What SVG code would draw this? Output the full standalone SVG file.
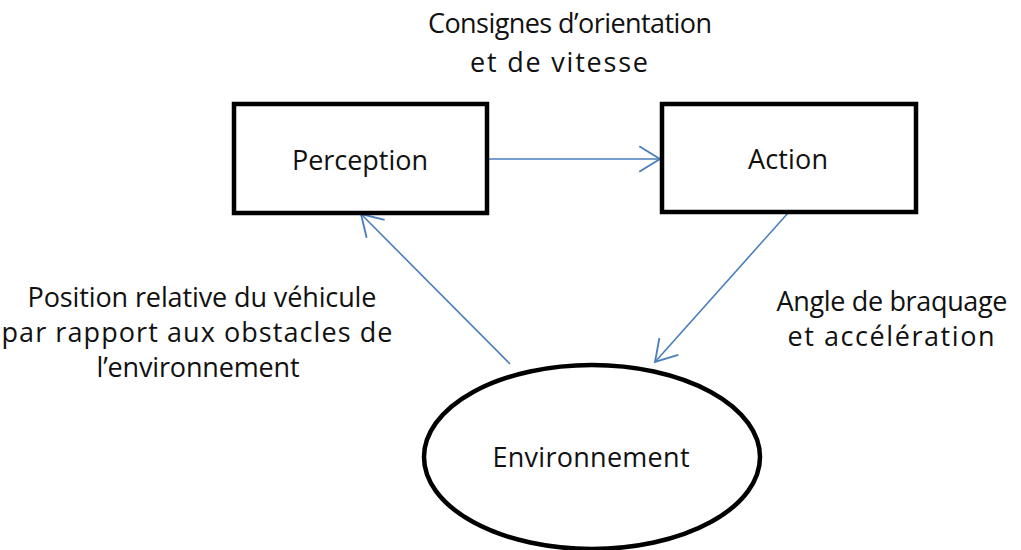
<svg xmlns="http://www.w3.org/2000/svg" width="1021" height="550" viewBox="0 0 1021 550">
  <style>
    .box { fill: #ffffff; stroke: #000000; stroke-width: 4.5; }
    .ell { fill: #ffffff; stroke: #000000; stroke-width: 4.5; }
    .lbl { font-family: "Open Sans", "Noto Sans", sans-serif; font-size: 27px; fill: #111111; }
    .conn { fill: none; stroke: #4a7ebb; stroke-width: 1.6; }
  </style>
  <defs>
    <marker id="open-arrow" markerUnits="userSpaceOnUse" markerWidth="30" markerHeight="30" viewBox="-20 -13 24 26" refX="0" refY="0" orient="auto">
      <path d="M-18,-11 L0,0 L-18,11" fill="none" stroke="#4a7ebb" stroke-width="1.6"/>
    </marker>
  </defs>
  <rect width="1021" height="550" fill="#ffffff"/>

  <!-- Connectors -->
  <g id="connectors">
    <line class="conn" x1="489" y1="159" x2="660" y2="159" marker-end="url(#open-arrow)"/>
    <line class="conn" x1="510" y1="364" x2="361" y2="214" marker-end="url(#open-arrow)"/>
    <line class="conn" x1="788" y1="213" x2="655" y2="362" marker-end="url(#open-arrow)"/>
  </g>

  <!-- Nodes -->
  <g id="perception">
    <rect class="box" x="234" y="104" width="253" height="109"/>
    <text class="lbl" x="360" y="170" text-anchor="middle" textLength="136" lengthAdjust="spacing">Perception</text>
  </g>
  <g id="action">
    <rect class="box" x="662" y="104" width="254" height="108"/>
    <text class="lbl" x="788" y="169" text-anchor="middle" textLength="80" lengthAdjust="spacing">Action</text>
  </g>
  <g id="environnement">
    <ellipse class="ell" cx="592" cy="457" rx="168" ry="92"/>
    <text class="lbl" x="591" y="467" text-anchor="middle" textLength="197" lengthAdjust="spacing">Environnement</text>
  </g>

  <!-- Connector labels -->
  <g id="label-consignes">
    <text class="lbl" x="570" y="33" text-anchor="middle" textLength="284" lengthAdjust="spacing">Consignes d’orientation</text>
    <text class="lbl" x="559" y="72" text-anchor="middle" textLength="178" lengthAdjust="spacing">et de vitesse</text>
  </g>
  <g id="label-position">
    <text class="lbl" x="202" y="307" text-anchor="middle" textLength="349" lengthAdjust="spacing">Position relative du véhicule</text>
    <text class="lbl" x="197" y="342" text-anchor="middle" textLength="391" lengthAdjust="spacing">par rapport aux obstacles de</text>
    <text class="lbl" x="198" y="377" text-anchor="middle" textLength="203" lengthAdjust="spacing">l’environnement</text>
  </g>
  <g id="label-angle">
    <text class="lbl" x="892" y="311" text-anchor="middle" textLength="231" lengthAdjust="spacing">Angle de braquage</text>
    <text class="lbl" x="891" y="346" text-anchor="middle" textLength="207" lengthAdjust="spacing">et accélération</text>
  </g>
</svg>
